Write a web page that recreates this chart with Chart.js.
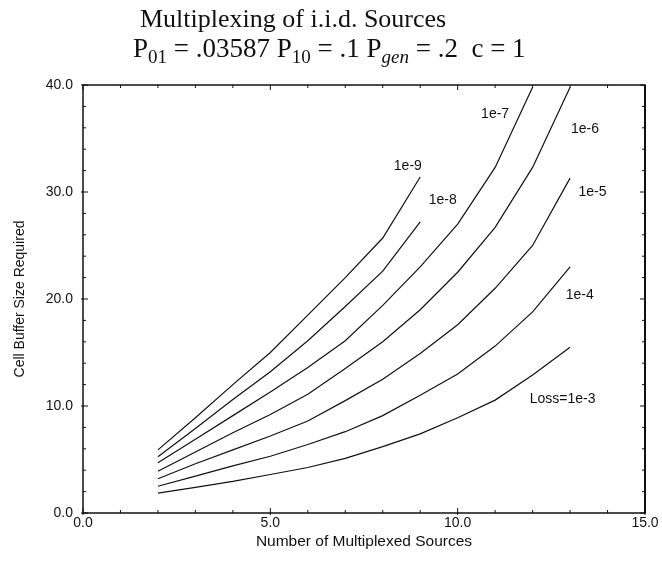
<!DOCTYPE html>
<html>
<head>
<meta charset="utf-8">
<script src="https://cdn.jsdelivr.net/npm/chart.js@4.4.1/dist/chart.umd.min.js"></script>
<style>
  html, body { margin: 0; padding: 0; background: #fff; }
  canvas { display: block; }
</style>
</head>
<body>
<canvas id="bufferChart" width="662" height="563"></canvas>
<script>
// Number of multiplexed sources (x values shared by all curves)
const sources = [2, 3, 4, 5, 6, 7, 8, 9, 10, 11, 12, 13];

// Cell buffer size required, one array per loss level
const loss1e3 = [1.85, 2.4, 2.95, 3.6, 4.25, 5.1, 6.2, 7.4, 8.9, 10.55, 12.9, 15.5];
const loss1e4 = [2.5, 3.45, 4.4, 5.3, 6.4, 7.6, 9.1, 11.0, 13.0, 15.6, 18.8, 23.0];
const loss1e5 = [3.2, 4.6, 5.9, 7.2, 8.6, 10.5, 12.5, 14.9, 17.6, 21.0, 25.0, 31.3];
const loss1e6 = [3.9, 5.7, 7.5, 9.2, 11.1, 13.5, 16.0, 19.0, 22.5, 26.7, 32.3, 39.8];
const loss1e7 = [4.7, 6.9, 9.1, 11.3, 13.6, 16.1, 19.4, 23.0, 27.0, 32.3, 39.8];
const loss1e8 = [5.25, 7.9, 10.6, 13.2, 16.1, 19.3, 22.6, 27.2];
const loss1e9 = [5.9, 8.9, 12.0, 15.0, 18.5, 22.0, 25.7, 31.4];

const seriesNames = ['Loss=1e-3', '1e-4', '1e-5', '1e-6', '1e-7', '1e-8', '1e-9'];
const seriesValues = [loss1e3, loss1e4, loss1e5, loss1e6, loss1e7, loss1e8, loss1e9];

// Where each curve label sits, in data coordinates
const labelX = [12.8, 13.26, 13.6, 13.4, 11.0, 9.6, 8.67];
const labelY = [10.65, 20.4, 30.0, 35.9, 37.3, 29.2, 32.4];

const titleLine1 = 'Multiplexing of i.i.d. Sources';
const titleLine2 = [
    { text: 'P' }, { text: '01', sub: true },
    { text: ' = .03587 P' }, { text: '10', sub: true },
    { text: ' = .1 P' }, { text: 'gen', sub: true, italic: true },
    { text: ' = .2  c = 1' }
];

const sansFont = '"Liberation Sans", Arial, sans-serif';
const serifFont = '"Liberation Serif", "Times New Roman", serif';

// Build datasets from the arrays
const datasets = seriesValues.map((vals, i) => ({
    label: seriesNames[i],
    data: vals.map((v, j) => ({ x: sources[j], y: v })),
    borderColor: '#111',
    borderWidth: 1.2,
    pointRadius: 0,
    tension: 0,
    fill: false
}));

// Title with subscripts, drawn above the plot
const titlePlugin = {
    id: 'titleText',
    afterDraw(chart) {
        const ctx = chart.ctx;
        ctx.save();
        ctx.fillStyle = '#111';
        ctx.textBaseline = 'alphabetic';
        ctx.font = '26px ' + serifFont;
        ctx.fillText(titleLine1, 140, 27);
        let x = 133;
        const y = 57;
        titleLine2.forEach(seg => {
            ctx.font = seg.sub
                ? (seg.italic ? 'italic ' : '') + '19px ' + serifFont
                : '27px ' + serifFont;
            ctx.fillText(seg.text, x, seg.sub ? y + 6 : y);
            x += ctx.measureText(seg.text).width;
        });
        ctx.restore();
    }
};

// Box frame, inward ticks on all four sides, curve labels
const framePlugin = {
    id: 'frameTicks',
    afterDatasetsDraw(chart) {
        const ctx = chart.ctx;
        const area = chart.chartArea;
        const xs = chart.scales.x;
        const ys = chart.scales.y;
        ctx.save();
        ctx.strokeStyle = '#111';
        ctx.lineWidth = 1.5;
        ctx.strokeRect(area.left, area.top, area.right - area.left, area.bottom - area.top);
        // right side is a bit heavier in the original
        ctx.lineWidth = 2;
        ctx.beginPath();
        ctx.moveTo(area.right, area.top);
        ctx.lineTo(area.right, area.bottom);
        ctx.stroke();

        ctx.lineWidth = 1;
        ctx.beginPath();
        for (let v = 0; v <= 15; v += 1) {
            const px = xs.getPixelForValue(v);
            const len = v % 5 === 0 ? 5 : 3;
            ctx.moveTo(px, area.bottom + (v % 5 === 0 ? 2 : 0));
            ctx.lineTo(px, area.bottom - len);
            ctx.moveTo(px, area.top);
            ctx.lineTo(px, area.top + len);
        }
        for (let v = 0; v <= 40; v += 2) {
            const py = ys.getPixelForValue(v);
            const len = v % 10 === 0 ? 5 : 3;
            ctx.moveTo(area.left - (v % 10 === 0 ? 2 : 0), py);
            ctx.lineTo(area.left + len, py);
            ctx.moveTo(area.right, py);
            ctx.lineTo(area.right - len, py);
        }
        ctx.stroke();

        ctx.fillStyle = '#111';
        ctx.font = '14px ' + sansFont;
        ctx.textAlign = 'center';
        ctx.textBaseline = 'middle';
        seriesNames.forEach((name, i) => {
            ctx.fillText(name, xs.getPixelForValue(labelX[i]), ys.getPixelForValue(labelY[i]));
        });
        ctx.restore();
    }
};

new Chart(document.getElementById('bufferChart'), {
    type: 'line',
    data: { datasets: datasets },
    options: {
        responsive: false,
        animation: false,
        devicePixelRatio: 1,
        layout: {
            padding: { top: 85, right: 17, left: 0, bottom: 0 }
        },
        plugins: {
            legend: { display: false },
            tooltip: { enabled: false }
        },
        scales: {
            x: {
                type: 'linear',
                min: 0,
                max: 15,
                afterFit(scale) { scale.height = 50; },
                border: { display: false },
                grid: { drawOnChartArea: false, drawTicks: false },
                ticks: {
                    stepSize: 5,
                    padding: 2,
                    color: '#111',
                    font: { family: sansFont, size: 14 },
                    maxRotation: 0,
                    callback: v => v.toFixed(1)
                },
                title: {
                    display: true,
                    text: 'Number of Multiplexed Sources',
                    color: '#111',
                    font: { family: sansFont, size: 15.5 },
                    padding: { top: 0, bottom: 12 }
                }
            },
            y: {
                type: 'linear',
                min: 0,
                max: 40,
                afterFit(scale) { scale.width = 83; },
                border: { display: false },
                grid: { drawOnChartArea: false, drawTicks: false },
                ticks: {
                    stepSize: 10,
                    padding: 10,
                    color: '#111',
                    font: { family: sansFont, size: 14 },
                    callback: v => v.toFixed(1)
                },
                title: {
                    display: true,
                    text: 'Cell Buffer Size Required',
                    color: '#111',
                    font: { family: sansFont, size: 14 },
                    padding: { top: 12, bottom: 0 }
                }
            }
        }
    },
    plugins: [titlePlugin, framePlugin]
});
</script>
</body>
</html>
